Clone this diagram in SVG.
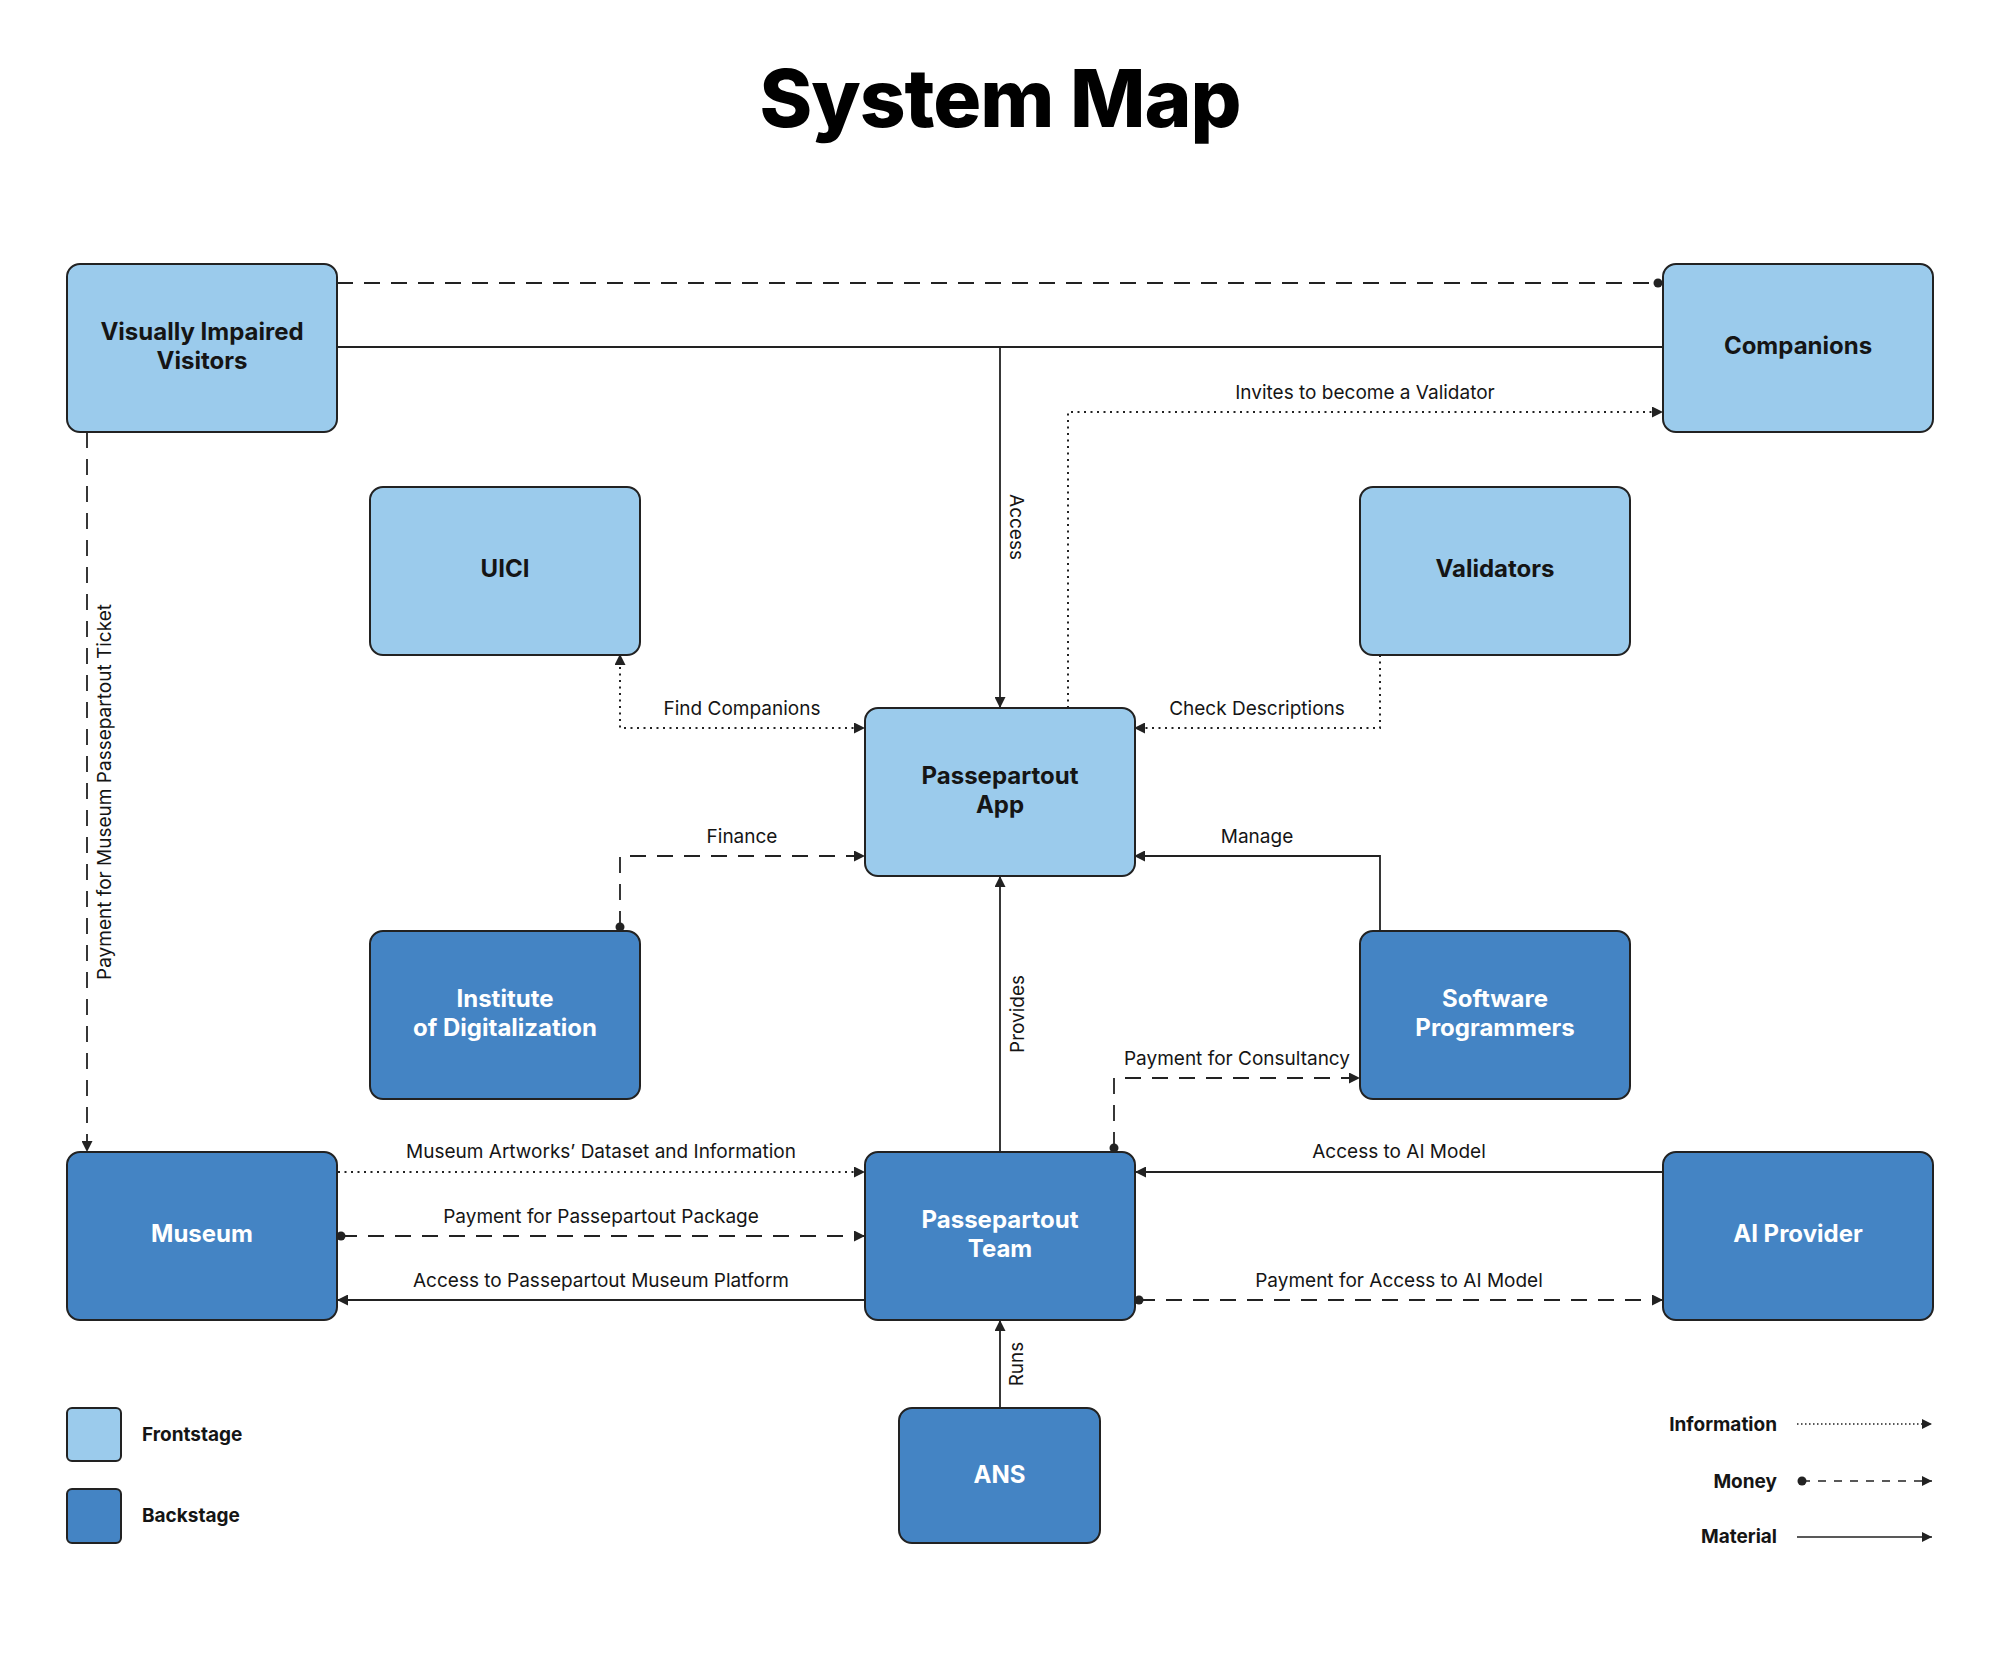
<svg xmlns="http://www.w3.org/2000/svg" width="2000" height="1667" viewBox="0 0 2000 1667">
<defs>
<marker id="arr" viewBox="0 0 10 10" refX="10" refY="5" markerWidth="11" markerHeight="11" markerUnits="userSpaceOnUse" orient="auto-start-reverse"><path d="M0,0 L10,5 L0,10 z" fill="#222"/></marker>
<marker id="arrs" viewBox="0 0 10 10" refX="10" refY="5" markerWidth="10" markerHeight="10" markerUnits="userSpaceOnUse" orient="auto"><path d="M0,0 L10,5 L0,10 z" fill="#222"/></marker>
<marker id="dot" viewBox="0 0 10 10" refX="5" refY="5" markerWidth="10" markerHeight="10" markerUnits="userSpaceOnUse"><circle cx="5" cy="5" r="4.5" fill="#222"/></marker>
</defs>
<style>
.front{fill:#9BCBEC;stroke:#222;stroke-width:2}
.back{fill:#4484C4;stroke:#222;stroke-width:2}
.tf{font-family:Inter,"Liberation Sans",sans-serif;font-weight:700;font-size:24px;fill:#151515;text-anchor:middle}
.tb{font-family:Inter,"Liberation Sans",sans-serif;font-weight:700;font-size:24px;fill:#ffffff;text-anchor:middle}
.lbl{font-family:Inter,"Liberation Sans",sans-serif;font-weight:400;font-size:19px;fill:#151515;text-anchor:middle}
.leg{font-family:Inter,"Liberation Sans",sans-serif;font-weight:700;font-size:19px;fill:#151515}
.mat{fill:none;stroke:#222;stroke-width:1.8}
.mon{fill:none;stroke:#222;stroke-width:1.8;stroke-dasharray:16 11}
.inf{fill:none;stroke:#222;stroke-width:2;stroke-dasharray:2 4.5}
</style>
<rect width="2000" height="1667" fill="#ffffff"/>
<text x="1000" y="127" font-family="Inter,'Liberation Sans',sans-serif" font-weight="800" font-size="80" text-anchor="middle" fill="#000" letter-spacing="-1">System Map</text>

<g id="connectors">
<path class="mon" d="M337,283 H1658" marker-end="url(#dot)"/>
<path class="mat" d="M337,347 H1663"/>
<path class="mat" d="M1000,347 V708" marker-end="url(#arr)"/>
<path class="inf" d="M1068,708 V412 H1663" marker-end="url(#arr)"/>
<path class="inf" d="M620,654 V728 H865" marker-start="url(#arr)" marker-end="url(#arr)"/>
<path class="inf" d="M1380,655 V728 H1134" marker-end="url(#arr)"/>
<path class="mon" d="M620,927 V856 H865" marker-start="url(#dot)" marker-end="url(#arr)"/>
<path class="mat" d="M1380,931 V856 H1134" marker-end="url(#arr)"/>
<path class="mat" d="M1000,1152 V876" marker-end="url(#arr)"/>
<path class="mon" d="M1114,1148 V1078 H1360" marker-start="url(#dot)" marker-end="url(#arr)"/>
<path class="inf" d="M338,1172 H865" marker-end="url(#arr)"/>
<path class="mon" d="M341,1236 H865" marker-start="url(#dot)" marker-end="url(#arr)"/>
<path class="mat" d="M865,1300 H337" marker-end="url(#arr)"/>
<path class="mat" d="M1663,1172 H1135" marker-end="url(#arr)"/>
<path class="mon" d="M1139,1300 H1663" marker-start="url(#dot)" marker-end="url(#arr)"/>
<path class="mat" d="M1000,1408 V1320" marker-end="url(#arr)"/>
<path class="mon" d="M87,432 V1152" marker-end="url(#arr)"/>

<text class="lbl" transform="translate(1010,527) rotate(90)">Access</text>
<text class="lbl" x="1365" y="399">Invites to become a Validator</text>
<text class="lbl" x="742" y="715">Find Companions</text>
<text class="lbl" x="1257" y="715">Check Descriptions</text>
<text class="lbl" x="742" y="843">Finance</text>
<text class="lbl" x="1257" y="843">Manage</text>
<text class="lbl" transform="translate(1024,1014) rotate(-90)">Provides</text>
<text class="lbl" x="1237" y="1065">Payment for Consultancy</text>
<text class="lbl" x="601" y="1158">Museum Artworks’ Dataset and Information</text>
<text class="lbl" x="601" y="1223">Payment for Passepartout Package</text>
<text class="lbl" x="601" y="1287">Access to Passepartout Museum Platform</text>
<text class="lbl" x="1399" y="1158">Access to AI Model</text>
<text class="lbl" x="1399" y="1287">Payment for Access to AI Model</text>
<text class="lbl" transform="translate(1023,1364) rotate(-90)">Runs</text>
<text class="lbl" transform="translate(111,792) rotate(-90)">Payment for Museum Passepartout Ticket</text>
</g>

<g id="visually-impaired-visitors"><rect class="front" x="67" y="264" width="270" height="168" rx="13"/><text class="tf" x="202" y="340">Visually Impaired</text><text class="tf" x="202" y="369">Visitors</text></g>
<g id="companions"><rect class="front" x="1663" y="264" width="270" height="168" rx="13"/><text class="tf" x="1798" y="354">Companions</text></g>
<g id="uici"><rect class="front" x="370" y="487" width="270" height="168" rx="13"/><text class="tf" x="505" y="577">UICI</text></g>
<g id="validators"><rect class="front" x="1360" y="487" width="270" height="168" rx="13"/><text class="tf" x="1495" y="577">Validators</text></g>
<g id="passepartout-app"><rect class="front" x="865" y="708" width="270" height="168" rx="13"/><text class="tf" x="1000" y="784">Passepartout</text><text class="tf" x="1000" y="813">App</text></g>
<g id="institute-of-digitalization"><rect class="back" x="370" y="931" width="270" height="168" rx="13"/><text class="tb" x="505" y="1007">Institute</text><text class="tb" x="505" y="1036">of Digitalization</text></g>
<g id="software-programmers"><rect class="back" x="1360" y="931" width="270" height="168" rx="13"/><text class="tb" x="1495" y="1007">Software</text><text class="tb" x="1495" y="1036">Programmers</text></g>
<g id="museum"><rect class="back" x="67" y="1152" width="270" height="168" rx="13"/><text class="tb" x="202" y="1242">Museum</text></g>
<g id="passepartout-team"><rect class="back" x="865" y="1152" width="270" height="168" rx="13"/><text class="tb" x="1000" y="1228">Passepartout</text><text class="tb" x="1000" y="1257">Team</text></g>
<g id="ai-provider"><rect class="back" x="1663" y="1152" width="270" height="168" rx="13"/><text class="tb" x="1798" y="1242">AI Provider</text></g>
<g id="ans"><rect class="back" x="899" y="1408" width="201" height="135" rx="13"/><text class="tb" x="999.5" y="1483">ANS</text></g>

<g id="legend">
<rect class="front" x="67" y="1408" width="54" height="53" rx="5"/>
<text class="leg" x="142" y="1441">Frontstage</text>
<rect class="back" x="67" y="1489" width="54" height="54" rx="5"/>
<text class="leg" x="142" y="1522">Backstage</text>
<text class="leg" x="1777" y="1431" text-anchor="end">Information</text>
<path d="M1797,1424 H1932" fill="none" stroke="#222" stroke-width="1.5" stroke-dasharray="1.5 2.5" marker-end="url(#arrs)"/>
<text class="leg" x="1777" y="1488" text-anchor="end">Money</text>
<path d="M1802,1481 H1932" fill="none" stroke="#222" stroke-width="1.5" stroke-dasharray="8 8" marker-start="url(#dot)" marker-end="url(#arrs)"/>
<text class="leg" x="1777" y="1543" text-anchor="end">Material</text>
<path d="M1797,1537 H1932" fill="none" stroke="#222" stroke-width="1.5" marker-end="url(#arrs)"/>
</g>
</svg>
